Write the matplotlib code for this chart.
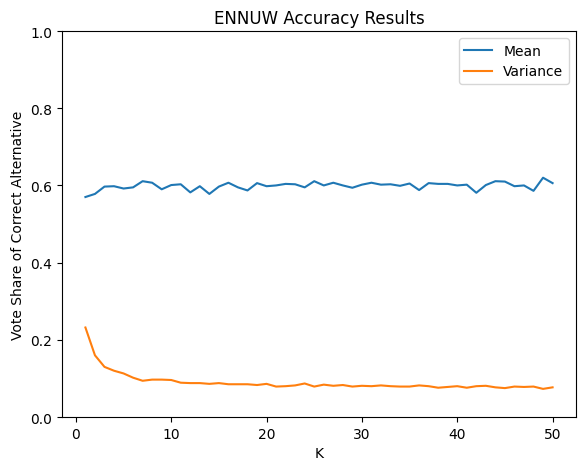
import matplotlib
matplotlib.use('Agg')
import matplotlib.pyplot as plt
import numpy as np

k = np.arange(1, 51)
mean = [0.570, 0.578, 0.597, 0.598, 0.592, 0.595, 0.611, 0.607, 0.590, 0.601,
        0.603, 0.582, 0.598, 0.578, 0.597, 0.607, 0.595, 0.587, 0.606, 0.598,
        0.600, 0.604, 0.603, 0.595, 0.611, 0.600, 0.607, 0.600, 0.594, 0.602,
        0.607, 0.602, 0.603, 0.599, 0.605, 0.588, 0.606, 0.604, 0.604, 0.600,
        0.602, 0.581, 0.601, 0.611, 0.610, 0.598, 0.600, 0.586, 0.620, 0.606]
variance = [0.232, 0.160, 0.130, 0.120, 0.113, 0.102, 0.094, 0.097, 0.097, 0.096,
            0.089, 0.088, 0.088, 0.086, 0.088, 0.085, 0.085, 0.085, 0.083, 0.086,
            0.079, 0.080, 0.082, 0.087, 0.079, 0.084, 0.081, 0.083, 0.079, 0.081,
            0.080, 0.082, 0.080, 0.079, 0.079, 0.082, 0.080, 0.076, 0.078, 0.080,
            0.076, 0.080, 0.081, 0.077, 0.075, 0.079, 0.078, 0.079, 0.073, 0.077]

fig = plt.figure(figsize=(5.8, 4.64), dpi=100)
ax = fig.add_subplot(111)
fig.subplots_adjust(left=0.107, right=0.993, top=0.931, bottom=0.099)
ax.plot(k, mean, label='Mean')
ax.plot(k, variance, label='Variance')
ax.set_ylim(0, 1.0)
ax.set_xlabel('K')
ax.set_ylabel('Vote Share of Correct Alternative')
ax.set_title('ENNUW Accuracy Results')
ax.legend()
fig.savefig('out.png', dpi=100)
